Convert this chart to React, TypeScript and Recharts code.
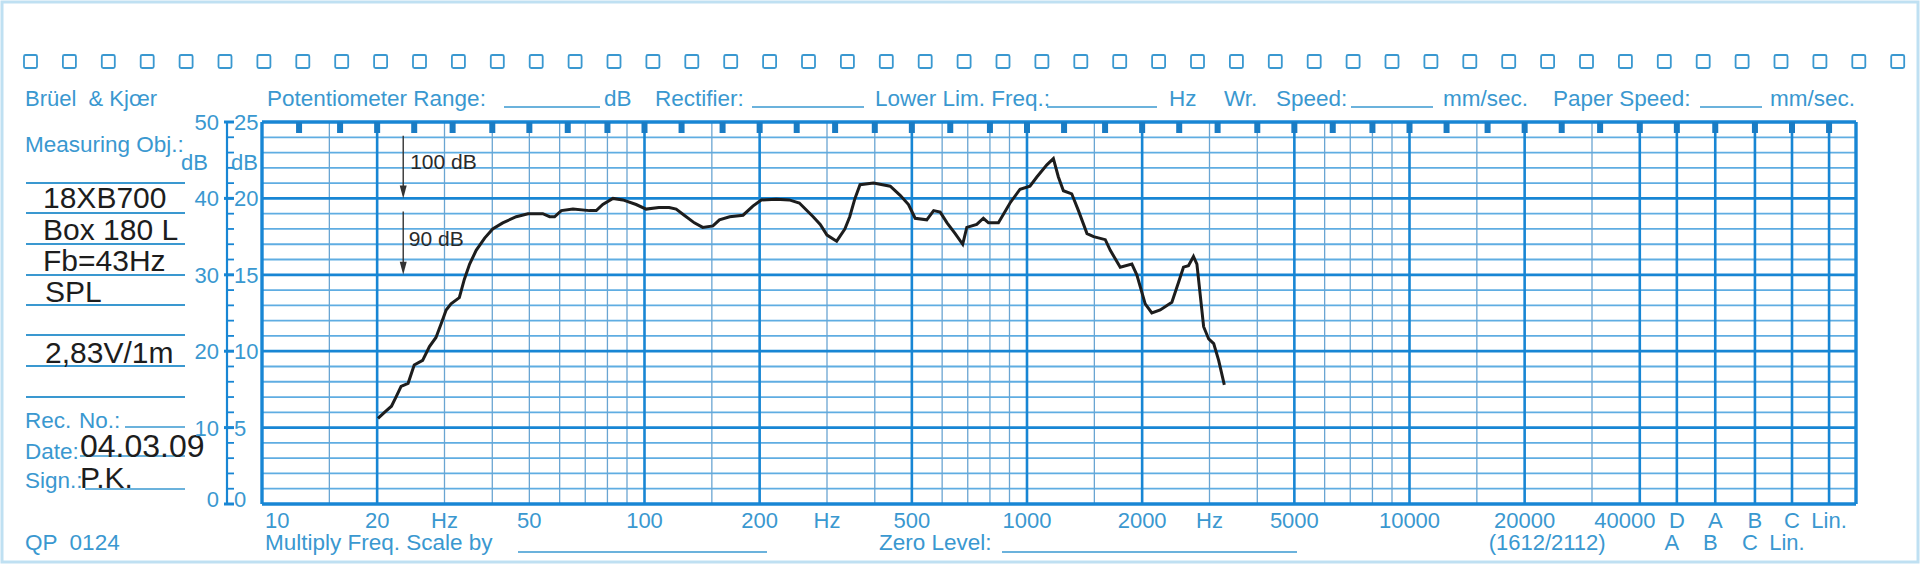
import { ComposedChart, Line, XAxis, YAxis, ReferenceLine, ReferenceDot, Scatter } from "recharts";

const FREQ_HZ = [
  20.1, 20.9, 21.8, 22.4, 23.1, 24.1, 25.0, 26.3, 27.4, 28.5, 29.4, 30.3, 31.2, 32.8, 33.8, 34.9, 36.3, 38.2,
  40.1, 42.6, 46.2, 49.6, 54.2, 56.5, 58.2, 60.6, 65.0, 71.8, 74.8, 77.8, 82.7, 87.8, 95.1, 101, 109, 116,
  121, 127, 135, 142, 151, 157, 167, 181, 192, 202, 221, 239, 254, 276, 288, 300, 318, 334, 344, 355, 366,
  397, 439, 466, 490, 510, 547, 570, 593, 618, 649, 679, 696, 739, 769, 793, 842, 903, 959, 1018, 1061,
  1127, 1172, 1208, 1245, 1309, 1363, 1435, 1493, 1602, 1651, 1753, 1880, 1937, 2037, 2120, 2230, 2392,
  2489, 2565, 2643, 2724, 2781, 2896, 2985, 3077, 3170, 3280,
];
const SPL_DB = [
  5.6, 6.0, 6.4, 7.0, 7.7, 7.9, 9.1, 9.4, 10.3, 10.9, 11.8, 12.7, 13.1, 13.5, 14.7, 15.7, 16.6, 17.4,
  18.0, 18.4, 18.8, 19.0, 19.0, 18.8, 18.8, 19.2, 19.3, 19.2, 19.2, 19.6, 20.0, 19.9, 19.6, 19.3, 19.4, 19.4,
  19.3, 18.9, 18.4, 18.1, 18.2, 18.6, 18.8, 18.9, 19.5, 19.9, 19.95, 19.9, 19.7, 18.8, 18.3, 17.6, 17.2, 18.0, 18.8, 20.0, 20.9,
  21.0, 20.8, 20.2, 19.6, 18.7, 18.6, 19.2, 19.1, 18.4, 17.7, 17.0, 18.1, 18.3, 18.7, 18.4, 18.4, 19.7, 20.6, 20.8, 21.4,
  22.2, 22.6, 21.4, 20.5, 20.3, 19.2, 17.7, 17.5, 17.3, 16.6, 15.5, 15.7, 15.0, 13.1, 12.5, 12.7, 13.2,
  14.5, 15.5, 15.6, 16.2, 15.7, 11.6, 10.8, 10.5, 9.4, 7.8,
];

// paper grid
const DB_TICKS = Array.from({ length: 26 }, (_, i) => i);
const MAJOR_DB = [0, 5, 10, 15, 20, 25];
const LEFT_OUTER = [0, 10, 20, 30, 40, 50];
const LEFT_INNER = [0, 5, 10, 15, 20, 25];
const RIGHT_INNER = [0, 2, 4, 6, 8, 10];
const RIGHT_OUTER = [0, 15, 30, 45, 60, 75];

const MINOR_F = [15, 30, 40, 50, 60, 70, 80, 90, 150, 300, 400, 600, 700, 800, 900, 1500, 3000, 4000, 6000, 7000, 8000, 9000, 15000, 30000];
const MAJOR_F = [20, 100, 200, 500, 1000, 2000, 5000, 10000, 20000, 40000, 50000, 63000, 80000, 100000, 125000];
const THIRD_OCT = [
  12.5, 16, 20, 25, 31.5, 40, 50, 63, 80, 100, 125, 160, 200, 250, 315, 400, 500, 630, 800, 1000, 1250, 1600,
  2000, 2500, 3150, 4000, 5000, 6300, 8000, 10000, 12500, 16000, 20000, 25000, 31500, 40000, 50000, 63000,
  80000, 100000, 125000,
];
const X_TICKS = [10, 20, 30, 50, 100, 200, 300, 500, 1000, 2000, 3000, 5000, 10000, 20000, 40000, 50000, 63000, 80000, 100000, 125000];
const X_LABELS = ["10", "20", "Hz", "50", "100", "200", "Hz", "500", "1000", "2000", "Hz", "5000", "10000", "20000", "40000", "D", "A", "B", "C", "Lin."];
const X_LABELS_2 = ["", "", "", "", "", "", "", "", "", "", "", "", "", "(1612/2112)", "", "A", "B", "C", "Lin.", ""];

// level markers drawn on the strip
const ARROW_F = 23.4;
const ARROWS = [
  { label: "100 dB", from: 24.1, to: 20, textF: 24.4, textDb: 22.4 },
  { label: "90 dB", from: 19.15, to: 15, textF: 24.2, textDb: 17.35 },
];

const W = 1920;
const H = 564;
const TOP = 122;
const X_H = 60;
const PLOT_H = H - TOP - X_H;
const FONT = "Liberation Sans, Arial, Helvetica, sans-serif";
const BLUE_TXT = "#3a98d0";
const GRID_MAJOR = "#1886d4";
const GRID_MINOR_H = "#5fade2";
const GRID_MINOR_V = "#6aa5d2";
const INK = "#1d1d1d";

const curve = FREQ_HZ.map((f, i) => ({ f, db: SPL_DB[i] }));
const markers = THIRD_OCT.map((f) => ({ f, y: 25 }));

function LeftTick(props: any) {
  const { x, y, payload } = props;
  const v = payload.value as number;
  const lx = x - 35;
  const i = MAJOR_DB.indexOf(v);
  const major = i >= 0;
  const ly = v === 0 ? y - 5 : y;
  return (
    <g fontFamily={FONT} fontSize={22} fill={BLUE_TXT}>
      {v === 0 && <line x1={lx} x2={lx} y1={y + 1} y2={y - PLOT_H - 1} stroke={GRID_MAJOR} strokeWidth={2.2} />}
      <line x1={major ? lx - 3 : lx} x2={lx + 7} y1={y} y2={y} stroke={GRID_MAJOR} strokeWidth={major ? 3 : 1.8} />
      {major && (
        <>
          <text x={lx - 8} y={ly} dy="0.36em" textAnchor="end">{LEFT_OUTER[i]}</text>
          <text x={lx + 7} y={ly} dy="0.36em" textAnchor="start">{LEFT_INNER[i]}</text>
        </>
      )}
      {v === 22 && (
        <>
          <text x={lx - 19} y={y - 6} dy="0.36em" textAnchor="end">dB</text>
          <text x={lx + 4} y={y - 6} dy="0.36em" textAnchor="start">dB</text>
        </>
      )}
    </g>
  );
}

function RightTick(props: any) {
  const { x, y, payload } = props;
  const v = payload.value as number;
  const rx = x + 26;
  const i = MAJOR_DB.indexOf(v);
  const major = i >= 0;
  const ly = v === 0 ? y - 5 : y;
  return (
    <g fontFamily={FONT} fontSize={22} fill={BLUE_TXT}>
      {v === 0 && <line x1={rx} x2={rx} y1={y + 1} y2={y - PLOT_H - 1} stroke={GRID_MAJOR} strokeWidth={2.2} />}
      <line x1={rx - 7} x2={major ? rx + 3 : rx} y1={y} y2={y} stroke={GRID_MAJOR} strokeWidth={major ? 3 : 1.8} />
      {major && (
        <>
          <text x={rx - 9} y={ly} dy="0.36em" textAnchor="end">{RIGHT_INNER[i]}</text>
          <text x={rx + 6} y={ly} dy="0.36em" textAnchor="start">{RIGHT_OUTER[i]}</text>
        </>
      )}
      {v === 22 && (
        <>
          <text x={rx - 11} y={y - 6} dy="0.36em" textAnchor="end">dB</text>
          <text x={rx + 6} y={y - 6} dy="0.36em" textAnchor="start">dB</text>
        </>
      )}
    </g>
  );
}

function FreqTick(props: any) {
  const { x, y, payload, index } = props;
  const label = X_LABELS[index];
  const label2 = X_LABELS_2[index];
  let anchor = "middle";
  let dx = 0;
  if (index === 0) {
    anchor = "start";
    dx = 3;
  }
  if (label === "40000") dx = -15;
  return (
    <g fontFamily={FONT} fontSize={22} fill={BLUE_TXT}>
      <text x={x + dx} y={y + 24} textAnchor={anchor}>{label}</text>
      {label2 && (
        <text x={label2.startsWith("(") ? x - 36 : x - 5} y={y + 46} textAnchor={label2.startsWith("(") ? "start" : "middle"}>
          {label2}
        </text>
      )}
    </g>
  );
}

function ArrowShape(props: any) {
  const { x1, y1, x2, y2 } = props;
  return (
    <g>
      <line x1={x1} y1={y1} x2={x2} y2={y2 - 8} stroke="#333" strokeWidth={1.4} />
      <path d={`M${x2 - 3.5},${y2 - 13} L${x2 + 3.5},${y2 - 13} L${x2},${y2} Z`} fill="#333" />
    </g>
  );
}

function Paper() {
  const squares = Array.from({ length: 49 }, (_, i) => 24 + i * 38.9);
  const panelLines = [183, 213, 244, 275, 305, 335, 366, 397];
  const t = { fontFamily: FONT, fontSize: 22.5, fill: BLUE_TXT, style: { whiteSpace: "pre" as const } };
  const ink = { fontFamily: FONT, fontSize: 30, fill: INK };
  const u = (x1: number, x2: number, y: number) => (
    <line x1={x1} x2={x2} y1={y} y2={y} stroke={BLUE_TXT} strokeWidth={1.6} />
  );
  return (
    <svg width={W} height={H} style={{ position: "absolute", left: 0, top: 0 }}>
      <rect x={2} y={2} width={W - 4} height={H - 4} fill="#fff" stroke="#bfe0f2" strokeWidth={3} />
      {squares.map((sx) => (
        <rect key={sx} x={sx} y={55} width={13} height={13} rx={1.5} fill="none" stroke={BLUE_TXT} strokeWidth={1.8} />
      ))}
      <text x={25} y={106} {...t} fontSize={22}>Brüel  &amp; Kjœr</text>
      <text x={267} y={106} {...t}>Potentiometer Range:</text>
      {u(504, 600, 107)}
      <text x={604} y={106} {...t}>dB</text>
      <text x={655} y={106} {...t}>Rectifier:</text>
      {u(752, 864, 107)}
      <text x={875} y={106} {...t}>Lower Lim. Freq.:</text>
      {u(1047, 1157, 107)}
      <text x={1169} y={106} {...t}>Hz</text>
      <text x={1224} y={106} {...t}>Wr.</text>
      <text x={1276} y={106} {...t}>Speed:</text>
      {u(1351, 1433, 107)}
      <text x={1443} y={106} {...t}>mm/sec.</text>
      <text x={1553} y={106} {...t}>Paper Speed:</text>
      {u(1700, 1762, 107)}
      <text x={1770} y={106} {...t}>mm/sec.</text>

      <text x={25} y={152} {...t}>Measuring Obj.:</text>
      {panelLines.map((ly) => (
        <line key={ly} x1={26} x2={185} y1={ly} y2={ly} stroke={BLUE_TXT} strokeWidth={1.8} />
      ))}
      <text x={43} y={208} {...ink}>18XB700</text>
      <text x={43} y={240} {...ink}>Box 180 L</text>
      <text x={43} y={271} {...ink}>Fb=43Hz</text>
      <text x={45} y={302} {...ink}>SPL</text>
      <text x={45} y={363} {...ink}>2,83V/1m</text>

      <text x={25} y={428} {...t}>Rec.</text>
      <text x={79} y={428} {...t}>No.:</text>
      {u(125, 185, 427)}
      <text x={25} y={459} {...t}>Date:</text>
      {u(80, 185, 456)}
      <text x={80} y={457} {...ink} fontSize={32}>04.03.09</text>
      <text x={25} y={488} {...t}>Sign.:</text>
      {u(85, 185, 489)}
      <text x={80} y={488} {...ink}>P.K.</text>

      <text x={25} y={550} {...t}>QP  0124</text>
      <text x={265} y={550} {...t}>Multiply Freq. Scale by</text>
      {u(518, 767, 552)}
      <text x={879} y={550} {...t}>Zero Level:</text>
      {u(1002, 1297, 552)}
    </svg>
  );
}

export default function App() {
  return (
    <div style={{ position: "absolute", left: 0, top: 0, width: W, height: H, background: "#fff", overflow: "hidden" }}>
      <Paper />
      <div style={{ position: "absolute", left: 0, top: 0 }}>
        <ComposedChart width={W} height={H} margin={{ top: TOP, right: 0, bottom: 0, left: 0 }}>
          <XAxis
            dataKey="f"
            type="number"
            scale="log"
            domain={[10, 147000]}
            allowDataOverflow
            ticks={X_TICKS}
            interval={0}
            height={X_H}
            axisLine={false}
            tickLine={false}
            tickSize={0}
            tickMargin={0}
            tick={<FreqTick />}
          />
          <YAxis
            yAxisId="l"
            type="number"
            domain={[0, 25]}
            ticks={DB_TICKS}
            interval={0}
            width={262}
            axisLine={false}
            tickLine={false}
            tickSize={0}
            tickMargin={0}
            tick={<LeftTick />}
          />
          <YAxis
            yAxisId="r"
            orientation="right"
            type="number"
            domain={[0, 25]}
            ticks={DB_TICKS}
            interval={0}
            width={64}
            axisLine={false}
            tickLine={false}
            tickSize={0}
            tickMargin={0}
            tick={<RightTick />}
          />
          {DB_TICKS.filter((v) => v > 0 && v < 25 && !MAJOR_DB.includes(v)).map((v) => (
            <ReferenceLine key={`hm${v}`} yAxisId="l" y={v} stroke={GRID_MINOR_H} strokeWidth={1.8} />
          ))}
          {MINOR_F.map((f) => (
            <ReferenceLine key={`vm${f}`} yAxisId="l" x={f} stroke={GRID_MINOR_V} strokeWidth={1.3} />
          ))}
          {MAJOR_DB.filter((v) => v > 0 && v < 25).map((v) => (
            <ReferenceLine key={`hM${v}`} yAxisId="l" y={v} stroke={GRID_MAJOR} strokeWidth={2.8} />
          ))}
          {MAJOR_F.map((f) => (
            <ReferenceLine key={`vM${f}`} yAxisId="l" x={f} stroke={GRID_MAJOR} strokeWidth={2.6} />
          ))}
          <ReferenceLine yAxisId="l" y={0} stroke={GRID_MAJOR} strokeWidth={3.4} />
          <ReferenceLine yAxisId="l" y={25} stroke={GRID_MAJOR} strokeWidth={3.4} />
          <ReferenceLine yAxisId="l" x={10} stroke={GRID_MAJOR} strokeWidth={3.4} />
          <ReferenceLine yAxisId="l" x={147000} stroke={GRID_MAJOR} strokeWidth={3.4} />
          <Scatter
            yAxisId="l"
            data={markers}
            dataKey="y"
            isAnimationActive={false}
            shape={(p: any) => <rect x={p.cx - 3} y={p.cy} width={6} height={11} fill="#1a7cc4" />}
          />
          {ARROWS.map((a) => (
            <ReferenceLine
              key={a.label}
              yAxisId="l"
              segment={[
                { x: ARROW_F, y: a.from },
                { x: ARROW_F, y: a.to },
              ]}
              shape={<ArrowShape />}
            />
          ))}
          {ARROWS.map((a) => (
            <ReferenceDot
              key={`t${a.label}`}
              yAxisId="l"
              x={a.textF}
              y={a.textDb}
              shape={(p: any) => (
                <text x={p.cx} y={p.cy} dy="0.36em" fontFamily={FONT} fontSize={21} fill="#2a2a2a">
                  {a.label}
                </text>
              )}
            />
          ))}
          <Line
            yAxisId="l"
            data={curve}
            dataKey="db"
            type="linear"
            stroke={INK}
            strokeWidth={3}
            dot={false}
            isAnimationActive={false}
          />
        </ComposedChart>
      </div>
    </div>
  );
}
